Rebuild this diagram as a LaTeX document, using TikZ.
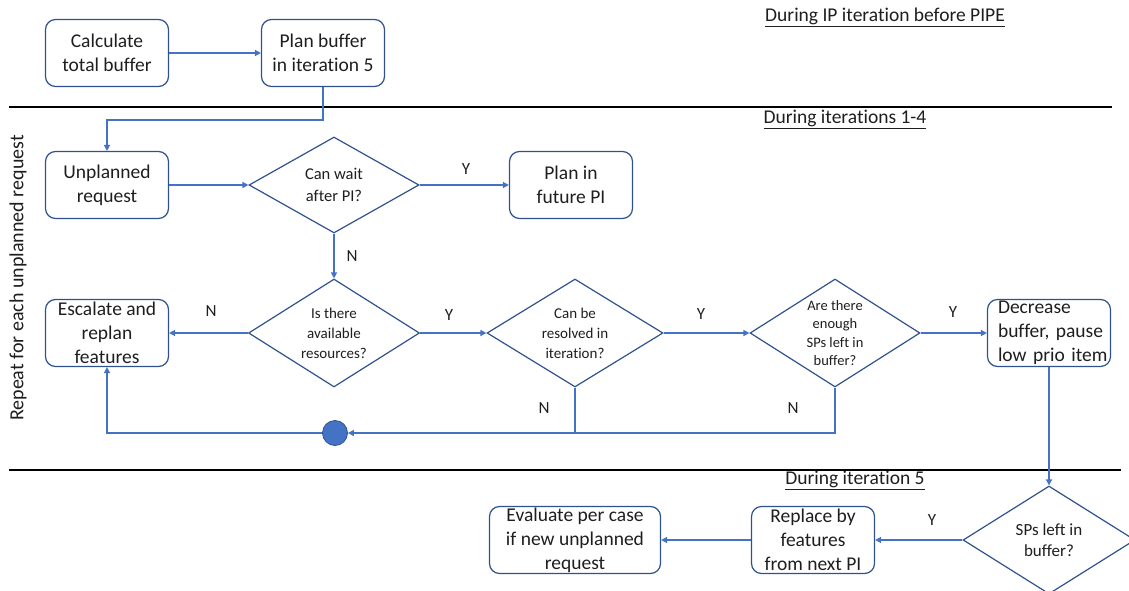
\documentclass[tikz,border=0pt]{standalone}
\usepackage{fontspec}
\setmainfont{Carlito}[Ligatures=NoCommon]
\usetikzlibrary{arrows.meta,shapes.geometric}
\definecolor{boxc}{RGB}{47,82,143}
\definecolor{arrc}{RGB}{68,114,196}
\definecolor{txt}{RGB}{30,30,30}
\begin{document}
\begin{tikzpicture}[x=1pt,y=-1pt,
 every node/.style={text=txt},
 boxfont/.style={font=\fontsize{19.5}{24}\selectfont},
 box/.style={draw=boxc,line width=1.2pt,rounded corners=10pt,minimum width=123pt,minimum height=67pt,align=center,boxfont,inner sep=0pt},
 dia/.style={draw=boxc,line width=1.2pt,shape=diamond,minimum width=171pt,minimum height=108pt,inner sep=0pt},
 dtext/.style={align=center,font=\fontsize{15}{20}\selectfont},
 arr/.style={draw=arrc,line width=1.6pt,-{Triangle[length=6pt,width=6pt]}},
 ln/.style={draw=arrc,line width=1.6pt},
 yn/.style={font=\fontsize{17}{20}\selectfont},
 sect/.style={font=\fontsize{19.5}{22}\selectfont},
 sep/.style={draw=black,line width=2pt},
]
\useasboundingbox (0,0) rectangle (1129,591);

% section separators and headings
\coordinate (l1a) at (9,107); \coordinate (l1b) at (1112,107);
\coordinate (l2a) at (9,470); \coordinate (l2b) at (1121,470);
\draw[sep] (l1a) -- (l1b);
\draw[sep] (l2a) -- (l2b);
\node[sect] (s1) at (885,17) {\underline{During IP iteration before PIPE}};
\node[sect] (s2) at (845,119) {\underline{During iterations 1-4}};
\node[sect] (s3) at (855,480) {\underline{During iteration 5}};
\node[rotate=90,font=\fontsize{20}{22}\selectfont] (rep) at (18,278) {Repeat for each unplanned request};

% boxes
\node[box] (calc) at (107,53) {Calculate\\total buffer};
\node[box] (planbuf) at (323,53) {Plan buffer\\in iteration 5};
\node[box] (unpl) at (107,185) {Unplanned\\request};
\node[box] (future) at (571,185) {Plan in\\future PI};
\node[box] (esc) at (107,333) {Escalate and\\replan\\features};
\node[draw=boxc,line width=1.2pt,rounded corners=10pt,minimum width=123pt,minimum height=67pt,inner sep=0pt] (decr) at (1049,333) {};
\node[boxfont,align=left,text width=110pt,inner sep=0pt,xshift=4pt] (decrt) at (decr.center) {Decrease\\buffer, pause\\low prio item};
\node[box] (replace) at (813,540) {Replace by\\features\\from next PI};
\node[box,minimum width=171pt] (eval) at (575,540) {Evaluate per case\\if new unplanned\\request};

% diamonds
\node[dia,minimum width=170pt,minimum height=96pt] (wait) at (334,185) {};
\node[dtext,font=\fontsize{16.5}{22}\selectfont] (waitt) at (wait.center) {Can wait\\after PI?};
\node[dia] (avail) at (334,333) {};
\node[dtext] (availt) at (avail.center) {Is there\\available\\resources?};
\node[dia,minimum width=176pt] (resolv) at (575,333) {};
\node[dtext] (resolvt) at (resolv.center) {Can be\\resolved in\\iteration?};
\node[dia,minimum width=170pt] (enough) at (835,333) {};
\node[dtext,font=\fontsize{14.5}{18.5}\selectfont] (enought) at (enough.center) {Are there\\enough\\SPs left in\\buffer?};
\node[dia,minimum width=172pt] (sps) at (1049,540) {};
\node[dtext,font=\fontsize{17}{21}\selectfont] (spst) at (sps.center) {SPs left in\\buffer?};

\node[circle,fill=arrc,draw=boxc,line width=0.8pt,minimum size=25pt,inner sep=0pt] (dot) at (335,433) {};

% labels
\node[yn] (y1) at (466,169) {Y};
\node[yn] (n1) at (352,256) {N};
\node[yn] (n2) at (211,311) {N};
\node[yn] (y2) at (449,315) {Y};
\node[yn] (y3) at (701,314) {Y};
\node[yn] (y4) at (953,312) {Y};
\node[yn] (n3) at (544,408) {N};
\node[yn] (n4) at (793,408) {N};
\node[yn] (y5) at (932,520) {Y};

% connectors
\draw[arr] (calc) -- (planbuf);
\draw[arr] (planbuf.south) -- ++(0,33) -| (unpl.north);
\draw[arr] (unpl) -- (wait);
\draw[arr] (wait.east) -- (future.west);
\draw[arr] (wait.south) -- (avail.north);
\draw[arr] (avail.west) -- (esc.east);
\draw[arr] (avail.east) -- (resolv.west);
\draw[arr] (resolv.east) -- (enough.west);
\draw[arr] (enough.east) -- (decr.west);
\coordinate (j1) at (resolv.south |- dot);
\draw[ln] (resolv.south) -- (j1);
\draw[arr] (enough.south) |- (dot);
\draw[arr] (dot.west) -| (esc.south);
\draw[arr] (decr.south) -- (sps.north);
\draw[arr] (sps.west) -- (replace.east);
\draw[arr] (replace.west) -- (eval.east);
\end{tikzpicture}
\end{document}
